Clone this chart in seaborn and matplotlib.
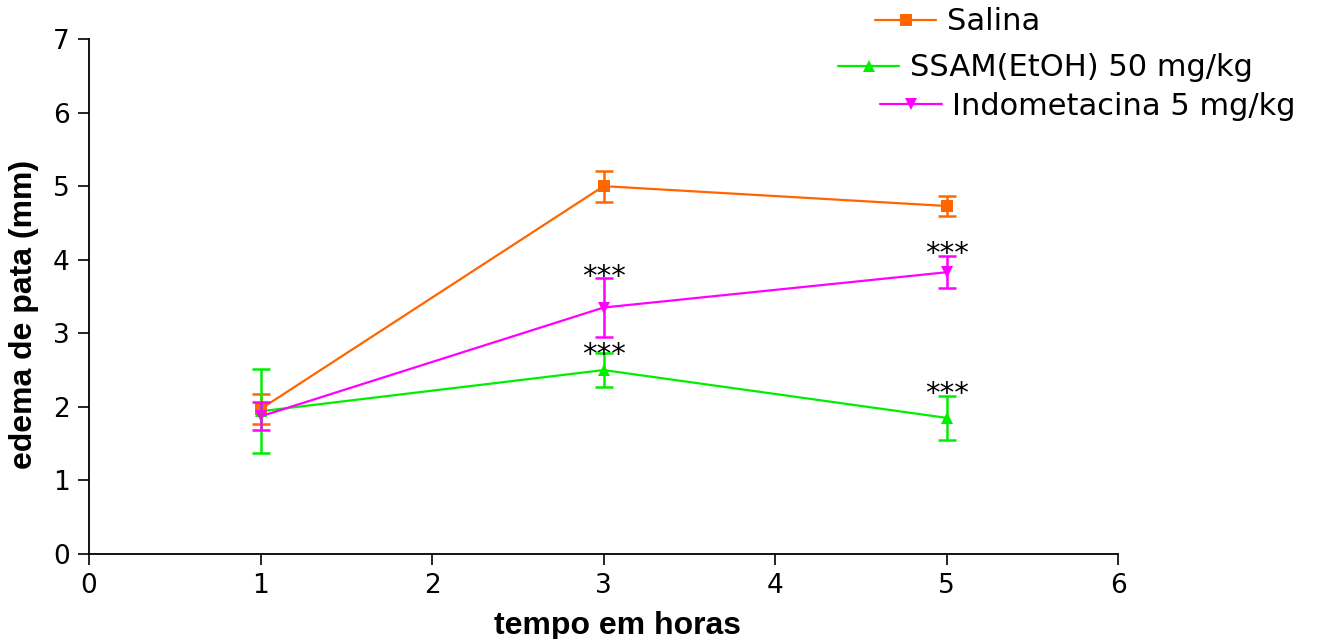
import numpy as np
import pandas as pd
import matplotlib
matplotlib.use("Agg")
import matplotlib.pyplot as plt
import seaborn as sns
from matplotlib.lines import Line2D

# ---- data ----
tempo = [1, 3, 5]
series_names = ["Salina", "SSAM(EtOH) 50 mg/kg", "Indometacina 5 mg/kg"]
salina_mean = [1.97, 5.00, 4.73]
salina_err = [0.20, 0.21, 0.13]
ssam_mean = [1.94, 2.50, 1.85]
ssam_err = [0.57, 0.23, 0.30]
indo_mean = [1.87, 3.35, 3.83]
indo_err = [0.19, 0.40, 0.22]
# significance marks
star_x = [3, 3, 5, 5]
star_y = [3.65, 2.60, 3.97, 2.06]
star_labels = ["***", "***", "***", "***"]

xticks = [0, 1, 2, 3, 4, 5, 6]
yticks = [0, 1, 2, 3, 4, 5, 6, 7]

colors = ["#FF6600", "#00EE00", "#FF00FF"]
markers = ["s", "^", "v"]

df = pd.DataFrame({
    "tempo": tempo * 3,
    "edema": salina_mean + ssam_mean + indo_mean,
    "err": salina_err + ssam_err + indo_err,
    "grupo": [series_names[0]] * 3 + [series_names[1]] * 3 + [series_names[2]] * 3,
})

sns.set_theme(style="ticks")
plt.rcParams["font.family"] = ["DejaVu Sans"]
plt.rcParams["text.color"] = "black"
plt.rcParams["axes.labelcolor"] = "black"

fig = plt.figure(figsize=(13.18, 6.39), dpi=100)
ax = fig.add_axes([0.0675, 0.133, 0.781, 0.806])

sns.lineplot(data=df, x="tempo", y="edema", hue="grupo", style="grupo",
             hue_order=series_names, style_order=series_names,
             palette=colors, markers=dict(zip(series_names, markers)),
             dashes=False, markersize=8, linewidth=1.6,
             markeredgewidth=0, errorbar=None, legend=False, ax=ax)

for name, c in zip(series_names, colors):
    sub = df[df["grupo"] == name]
    ax.errorbar(sub["tempo"], sub["edema"], yerr=sub["err"], fmt="none",
                ecolor=c, elinewidth=1.8, capsize=6.5, capthick=1.8)

for sx, sy, lab in zip(star_x, star_y, star_labels):
    ax.text(sx, sy, lab, ha="center", va="baseline", fontsize=21, color="black")

ax.set_xlim(0, 6)
ax.set_ylim(0, 7)
ax.set_xticks(xticks)
ax.set_yticks(yticks)
ax.tick_params(axis="both", direction="out", length=8, width=1.2,
               labelsize=19, colors="black", pad=6)
for s in ["top", "right"]:
    ax.spines[s].set_visible(False)
for s in ["left", "bottom"]:
    ax.spines[s].set_linewidth(1.3)
    ax.spines[s].set_color("black")

bold = ["Liberation Sans", "DejaVu Sans"]
ax.set_xlabel("tempo em horas", fontsize=23, fontweight="bold",
              family=bold, labelpad=8)
ax.set_ylabel("edema de pata (mm)", fontsize=23, fontweight="bold",
              family=bold, labelpad=10)
ax.xaxis.label.set_x(0.513)
ax.yaxis.label.set_y(0.466)

# legend: one row per entry, positioned as in reference
legend_pos = [(0.664, 0.9656), (0.636, 0.8936), (0.668, 0.8341)]
for name, c, m, pos in zip(series_names, colors, markers, legend_pos):
    h = Line2D([], [], color=c, marker=m, markersize=8, linewidth=1.6,
               markeredgewidth=0)
    fig.legend([h], [name], loc="center left", bbox_to_anchor=pos,
               frameon=False, fontsize=22, handlelength=2.0,
               handletextpad=0.35, borderpad=0, borderaxespad=0,
               labelcolor="black")

fig.savefig("out.png", dpi=100, facecolor="white")
